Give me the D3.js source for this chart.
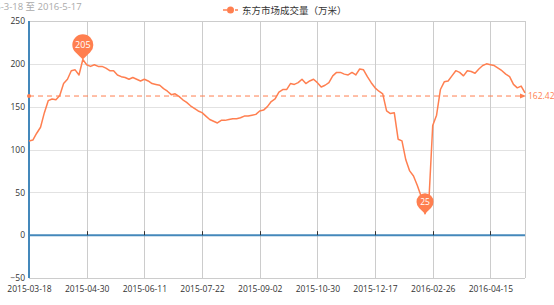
<!DOCTYPE html>
<html>
<head>
<meta charset="utf-8">
<script src="https://cdn.jsdelivr.net/npm/d3@7/dist/d3.min.js"></script>
<style>
  body { margin: 0; background: #fff; }
  svg { display: block; }
</style>
</head>
<body>
<div id="chart"></div>
<script>
// chart data
const seriesName = "东方市场成交量（万米）";
const subtitle = "2015-3-18 至 2016-5-17";
const tickLabels = ["2015-03-18", "2015-04-30", "2015-06-11", "2015-07-22", "2015-09-02",
                    "2015-10-30", "2015-12-17", "2016-02-26", "2016-04-15"];
const yTicks = [-50, 0, 50, 100, 150, 200, 250];
const avgValue = 162.42;
const volume = [
  110, 111, 119, 126, 143, 157, 159, 158, 163, 177,
  182, 192, 193, 187, 205, 199, 197, 199, 197, 197,
  195, 192, 192, 187, 185, 184, 182, 184, 182, 180,
  182, 180, 177, 176, 175, 171, 168, 164, 165, 162,
  158, 155, 151, 148, 145, 143, 139, 135, 133, 131,
  134, 134, 135, 136, 136, 137, 139, 139, 140, 141,
  145, 146, 150, 156, 159, 167, 170, 170, 177, 176,
  178, 182, 177, 180, 182, 178, 173, 175, 178, 186,
  190, 190, 188, 187, 190, 187, 194, 193, 185, 178,
  172, 168, 165, 145, 142, 143, 112, 110, 88, 75,
  69, 58, 45, 25, 40, 128, 140, 170, 179, 180,
  186, 192, 190, 186, 192, 191, 189, 194, 198, 200,
  199, 198, 195, 192, 188, 185, 176, 172, 174, 166
];
const labelEvery = 15;  // one date label every 15 categories

const W = 554, H = 305;
const margin = {top: 21, right: 29, bottom: 27, left: 29};
const lineColor = "#ff7f50";
const axisBlue = "#48b";

const svg = d3.select("#chart").append("svg")
  .attr("width", W).attr("height", H)
  .style("font-family", "'Open Sans', 'Noto Sans CJK SC', sans-serif");

const x = d3.scalePoint()
  .domain(d3.range(volume.length))
  .range([margin.left, W - margin.right]);
const y = d3.scaleLinear()
  .domain([-50, 250])
  .range([H - margin.bottom, margin.top]);

const labelIdx = tickLabels.map((d, i) => i * labelEvery);

// horizontal grid
svg.append("g").selectAll("line")
  .data(yTicks)
  .join("line")
    .attr("x1", margin.left).attr("x2", W - margin.right)
    .attr("y1", d => Math.round(y(d)) + 0.5).attr("y2", d => Math.round(y(d)) + 0.5)
    .attr("stroke", d => (d === 250 || d === -50) ? "#ccc" : "#e2e2e2");

// vertical grid
svg.append("g").selectAll("line")
  .data(labelIdx.slice(1).concat([volume.length - 1]))
  .join("line")
    .attr("x1", d => Math.round(x(d)) + 0.5).attr("x2", d => Math.round(x(d)) + 0.5)
    .attr("y1", margin.top).attr("y2", H - margin.bottom)
    .attr("stroke", "#ccc");

// x axis labels at the bottom
const xAxis = d3.axisBottom(x)
  .tickValues(labelIdx)
  .tickSize(0)
  .tickPadding(8)
  .tickFormat((d, i) => tickLabels[i]);
const gx = svg.append("g")
  .attr("transform", `translate(0,${H - margin.bottom})`)
  .call(xAxis);
gx.select(".domain").remove();
gx.selectAll("text").attr("fill", "#333").attr("font-size", 8.5)
  .attr("font-family", "'Open Sans', sans-serif");

// y axis labels
const yAxis = d3.axisLeft(y).tickValues(yTicks).tickSize(0).tickPadding(4);
const gy = svg.append("g")
  .attr("transform", `translate(${margin.left},0)`)
  .call(yAxis);
gy.select(".domain").remove();
gy.selectAll("text").attr("fill", "#333").attr("font-size", 8.5)
  .attr("font-family", "'Open Sans', sans-serif");

// category axis line sits on zero
svg.append("line")
  .attr("x1", margin.left).attr("x2", W - margin.right)
  .attr("y1", y(0)).attr("y2", y(0))
  .attr("stroke", axisBlue).attr("stroke-width", 2);
svg.append("g").selectAll("line")
  .data(labelIdx.slice(1))
  .join("line")
    .attr("x1", d => Math.round(x(d)) + 0.5).attr("x2", d => Math.round(x(d)) + 0.5)
    .attr("y1", y(0) - 4).attr("y2", y(0))
    .attr("stroke", "#333");

// value axis line
svg.append("line")
  .attr("x1", margin.left).attr("x2", margin.left)
  .attr("y1", margin.top).attr("y2", H - margin.bottom)
  .attr("stroke", axisBlue).attr("stroke-width", 2);

// average mark line
const ya = y(avgValue);
svg.append("line")
  .attr("x1", margin.left).attr("x2", W - margin.right - 3)
  .attr("y1", ya).attr("y2", ya)
  .attr("stroke", lineColor).attr("stroke-width", 1)
  .attr("stroke-dasharray", "5,4");
svg.append("circle")
  .attr("cx", margin.left).attr("cy", ya).attr("r", 2)
  .attr("fill", lineColor);
svg.append("path")
  .attr("d", `M${W - margin.right - 5},${ya - 2.5}L${W - margin.right + 1},${ya}L${W - margin.right - 5},${ya + 2.5}Z`)
  .attr("fill", lineColor);
svg.append("text")
  .attr("x", W - margin.right + 3).attr("y", ya + 3)
  .attr("fill", lineColor).attr("font-size", 8.5)
  .text(avgValue);

// the series
const line = d3.line()
  .x((d, i) => x(i))
  .y(d => y(d));
svg.append("path")
  .datum(volume)
  .attr("d", line)
  .attr("fill", "none")
  .attr("stroke", lineColor)
  .attr("stroke-width", 1.5)
  .attr("stroke-linejoin", "round");

// max / min pins
function pin(r) {
  const h = r * 1.4;
  const px = r * 0.7, py = -h + r * (r / h);
  return `M0,0L${-px},${py}A${r},${r} 0 1 1 ${px},${py}Z`;
}
const iMax = d3.maxIndex(volume), iMin = d3.minIndex(volume);
[{i: iMax, r: 10.5}, {i: iMin, r: 8.5}].forEach(p => {
  const g = svg.append("g").attr("transform", `translate(${x(p.i)},${y(volume[p.i])})`);
  g.append("path").attr("d", pin(p.r)).attr("fill", lineColor);
  g.append("text")
    .attr("y", -p.r * 1.4 + 3)
    .attr("text-anchor", "middle")
    .attr("fill", "#fff").attr("font-size", p.r > 9 ? 9 : 8.5)
    .text(volume[p.i]);
});

// subtitle, partly cut off on the left
svg.append("text")
  .attr("x", -21).attr("y", 10)
  .attr("fill", "#aaa").attr("font-size", 9.5)
  .attr("font-family", "'Open Sans', 'Noto Sans CJK SC', sans-serif")
  .text(subtitle);

// legend
const lg = svg.append("g").attr("transform", "translate(223,10)");
lg.append("line").attr("x1", 0).attr("x2", 15).attr("y1", 0).attr("y2", 0)
  .attr("stroke", lineColor).attr("stroke-width", 1.5).attr("stroke-dasharray", "4,2");
lg.append("circle").attr("cx", 7.5).attr("cy", 0).attr("r", 3.5).attr("fill", lineColor);
lg.append("text").attr("x", 19).attr("y", 3.5)
  .attr("fill", "#333").attr("font-size", 9.5)
  .attr("font-family", "'Noto Sans CJK SC', sans-serif")
  .text(seriesName);
</script>
</body>
</html>
